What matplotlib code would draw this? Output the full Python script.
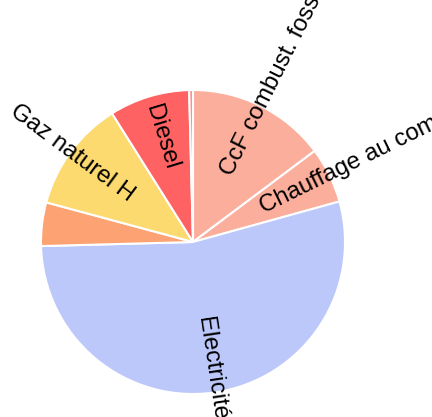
import numpy as np
import matplotlib
matplotlib.use("Agg")
import matplotlib.pyplot as plt

categories = ["CcF combust. fossiles", "Chauffage au combustible", "Electricité",
              "", "Gaz naturel H", "Diesel", ""]
values = [14.7, 5.9, 53.6, 4.6, 11.8, 8.5, 0.4]
colors = ["#FCAE9C", "#FCAE9C", "#BCC8FA", "#FDA272", "#FDDA70", "#FF6262", "#FF8C8C"]

W, H = 432, 417
cx, cy, R = 193, 242, 152

fig = plt.figure(figsize=(W / 100, H / 100), dpi=100)
ax = fig.add_axes([0, 0, 1, 1])
ax.set_axis_off()

wedges, _ = ax.pie(values, colors=colors, startangle=90, counterclock=False,
                   radius=1.0, wedgeprops=dict(edgecolor="white", linewidth=1.5))

ax.set_xlim(-cx / R, (W - cx) / R)
ax.set_ylim(-(H - cy) / R, cy / R)

for w, lab in zip(wedges, categories):
    if not lab:
        continue
    mid = np.deg2rad((w.theta1 + w.theta2) / 2)
    x, y = 0.5 * np.cos(mid), 0.5 * np.sin(mid)
    ang = np.rad2deg(mid) % 360
    if 90 < ang < 270:
        rot, ha = ang - 180, "right"
    else:
        rot, ha = ang if ang <= 90 else ang - 360, "left"
    ax.text(x, y, lab, rotation=rot, rotation_mode="anchor", ha=ha, va="center",
            fontsize=17.3, family=["Liberation Sans", "DejaVu Sans"], color="black")

fig.savefig("out.png", dpi=100)
